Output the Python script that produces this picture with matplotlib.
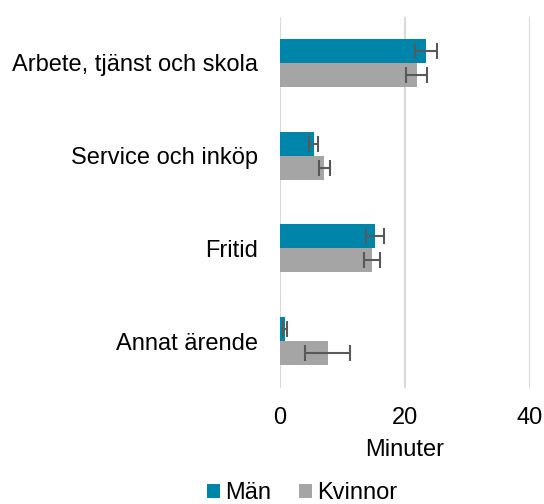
import matplotlib
matplotlib.use("Agg")
import matplotlib.pyplot as plt
import numpy as np

plt.rcParams['font.family'] = ['Liberation Sans', 'DejaVu Sans']

categories = ["Arbete, tjänst och skola", "Service och inköp", "Fritid", "Annat ärende"]
men = [23.4, 5.4, 15.25, 0.8]
men_err = [1.75, 0.7, 1.45, 0.35]
women = [21.9, 7.1, 14.7, 7.6]
women_err = [1.7, 0.85, 1.25, 3.6]
xticks = [0, 20, 40]

FS = 17

fig = plt.figure(figsize=(5.44, 5.04), dpi=100)
ax = fig.add_axes([280/544, 1-387.5/504, 250/544, 371/504])

y = np.arange(len(categories))
h = 0.26
err_kw = dict(ecolor="#595959", elinewidth=1.5, capsize=5.5, capthick=1.5)
ax.barh(y - h/2, men, height=h, color="#0085AA", xerr=men_err, error_kw=err_kw, label="Män", zorder=2)
ax.barh(y + h/2, women, height=h, color="#A5A5A5", xerr=women_err, error_kw=err_kw, label="Kvinnor", zorder=2)

ax.set_ylim(len(categories) - 0.5, -0.5)
ax.set_xlim(0, 40)
ax.set_xticks(xticks)
ax.set_yticks(y)
ax.set_yticklabels(categories)
ax.tick_params(axis='y', length=0, pad=16, labelsize=FS)
ax.tick_params(axis='x', length=0, pad=14, labelsize=FS)
ax.grid(axis='x', color="#D9D9D9", linewidth=1.5, zorder=0)
ax.set_axisbelow(True)
for s in ax.spines.values():
    s.set_visible(False)
ax.set_xlabel("Minuter", fontsize=FS, labelpad=7)

fig.legend(loc="center", bbox_to_anchor=(302/544, 1-493/504), ncol=2, frameon=False,
           fontsize=FS, handlelength=0.55, handleheight=0.55, handletextpad=0.2, columnspacing=1.2,
           borderpad=0.1)

fig.savefig("out.png", dpi=100)
